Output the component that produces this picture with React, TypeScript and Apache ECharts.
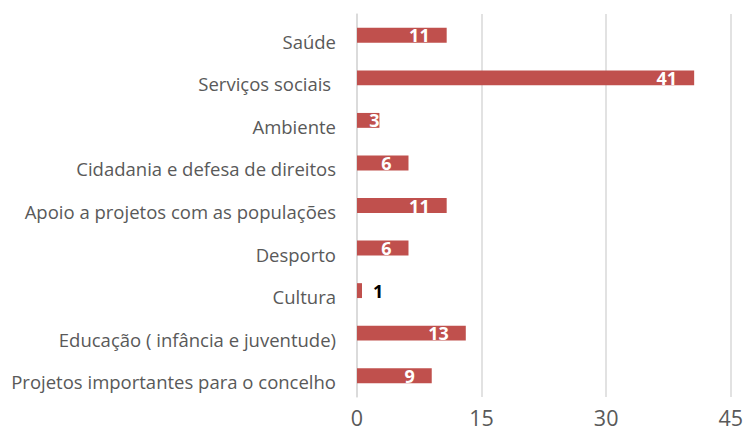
import React, { useEffect, useRef } from "react";
import * as echarts from "echarts";

const categories = [
  "Saúde",
  "Serviços sociais ",
  "Ambiente",
  "Cidadania e defesa de direitos",
  "Apoio a projetos com as populações",
  "Desporto",
  "Cultura",
  "Educação ( infância e juventude)",
  "Projetos importantes para o concelho",
];
const values = [10.8, 40.6, 2.7, 6.2, 10.8, 6.2, 0.6, 13.1, 9.0];
const xTicks = [0, 15, 30, 45];

export default function App() {
  const ref = useRef<HTMLDivElement>(null);
  useEffect(() => {
    if (!ref.current) return;
    const chart = echarts.init(ref.current, null, { renderer: "svg" });
    const font = "'Open Sans', 'Liberation Sans', sans-serif";
    const data = values.map((v) => {
      const item: any = { value: v };
      if (v < 1) {
        item.label = { position: "right", distance: 11, color: "#000000" };
      } else if (v < 4) {
        item.label = { position: "insideRight", distance: 0 };
      }
      return item;
    });
    chart.setOption({
      animation: false,
      grid: { left: 357, right: 13, top: 14, bottom: 40, containLabel: false },
      xAxis: {
        type: "value",
        min: xTicks[0],
        max: xTicks[xTicks.length - 1],
        interval: 15,
        axisLine: { show: false },
        axisTick: { show: false },
        axisLabel: { color: "#595959", fontSize: 21.5, fontFamily: font, margin: 9 },
        splitLine: { show: true, lineStyle: { color: "#d9d9d9", width: 1.5 } },
      },
      yAxis: {
        type: "category",
        inverse: true,
        data: categories,
        axisLine: { show: true, lineStyle: { color: "#d9d9d9", width: 1.5 } },
        axisTick: { show: false },
        axisLabel: {
          color: "#595959",
          fontSize: 18.5,
          fontFamily: font,
          margin: 21,
          verticalAlign: "top",
          lineHeight: 12,
        },
      },
      series: [
        {
          type: "bar",
          data,
          barWidth: "35%",
          itemStyle: { color: "#C0504D" },
          label: {
            show: true,
            position: "insideRight",
            distance: 17,
            color: "#ffffff",
            fontWeight: "bold",
            fontSize: 18,
            fontFamily: font,
            formatter: (p: any) => String(Math.round(p.value)),
          },
        },
      ],
    });
    return () => chart.dispose();
  }, []);
  return <div ref={ref} style={{ width: 746, height: 437, position: "absolute", left: 0, top: 0 }} />;
}
